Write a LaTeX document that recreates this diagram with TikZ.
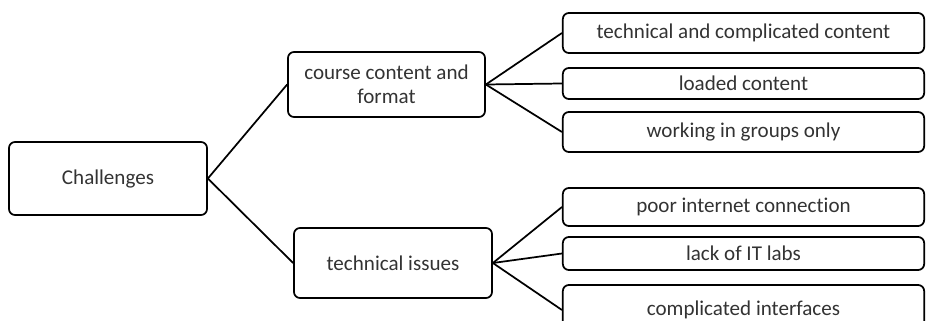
\documentclass[tikz,border=0pt]{standalone}
\usepackage{fontspec}
\setmainfont{Carlito}[Ligatures={NoCommon}]
\usetikzlibrary{positioning}

\begin{document}
\begin{tikzpicture}[x=0.75pt,y=-0.75pt,line width=1.3pt,
    box/.style={draw,rounded corners=4.5pt,align=center,inner sep=2pt,text=black!80,font=\fontsize{15.8}{18}\selectfont},
    leaf box/.style={box,minimum width=271pt}]

            \useasboundingbox (0,0) rectangle (926,321);

            \node[box,minimum width=148.5pt,minimum height=54.75pt] (ch) at (108,178.5) {Challenges};
            \node[box,minimum width=147.75pt,minimum height=48.75pt] (cc) at (386.5,84.5) {course content and\\format};
            \node[box,minimum width=148.5pt,minimum height=52.5pt] (ti) at (393,263) {technical issues};

            % leaves of the first branch
            \foreach \name/\y/\h/\txt in {
                a1/33/30/technical and complicated content,
                a2/83.5/23.25/loaded content,
                a3/132/30/working in groups only}{
                \node[leaf box,minimum height=\h pt] (\name) at (743.5,\y) {\txt};
                \draw (cc.east) -- (\name.west);
            }

            % leaves of the second branch
            \foreach \name/\y/\h/\txt in {
                b1/207/28.5/poor internet connection,
                b2/253.5/24.75/lack of IT labs,
                b3/310/37.5/complicated interfaces}{
                \node[leaf box,minimum height=\h pt] (\name) at (743.5,\y) {\txt};
                \draw (ti.east) -- (\name.west);
            }

            \draw (ch.east) -- (cc.west);
            \draw (ch.east) -- (ti.west);

\end{tikzpicture}
\end{document}
